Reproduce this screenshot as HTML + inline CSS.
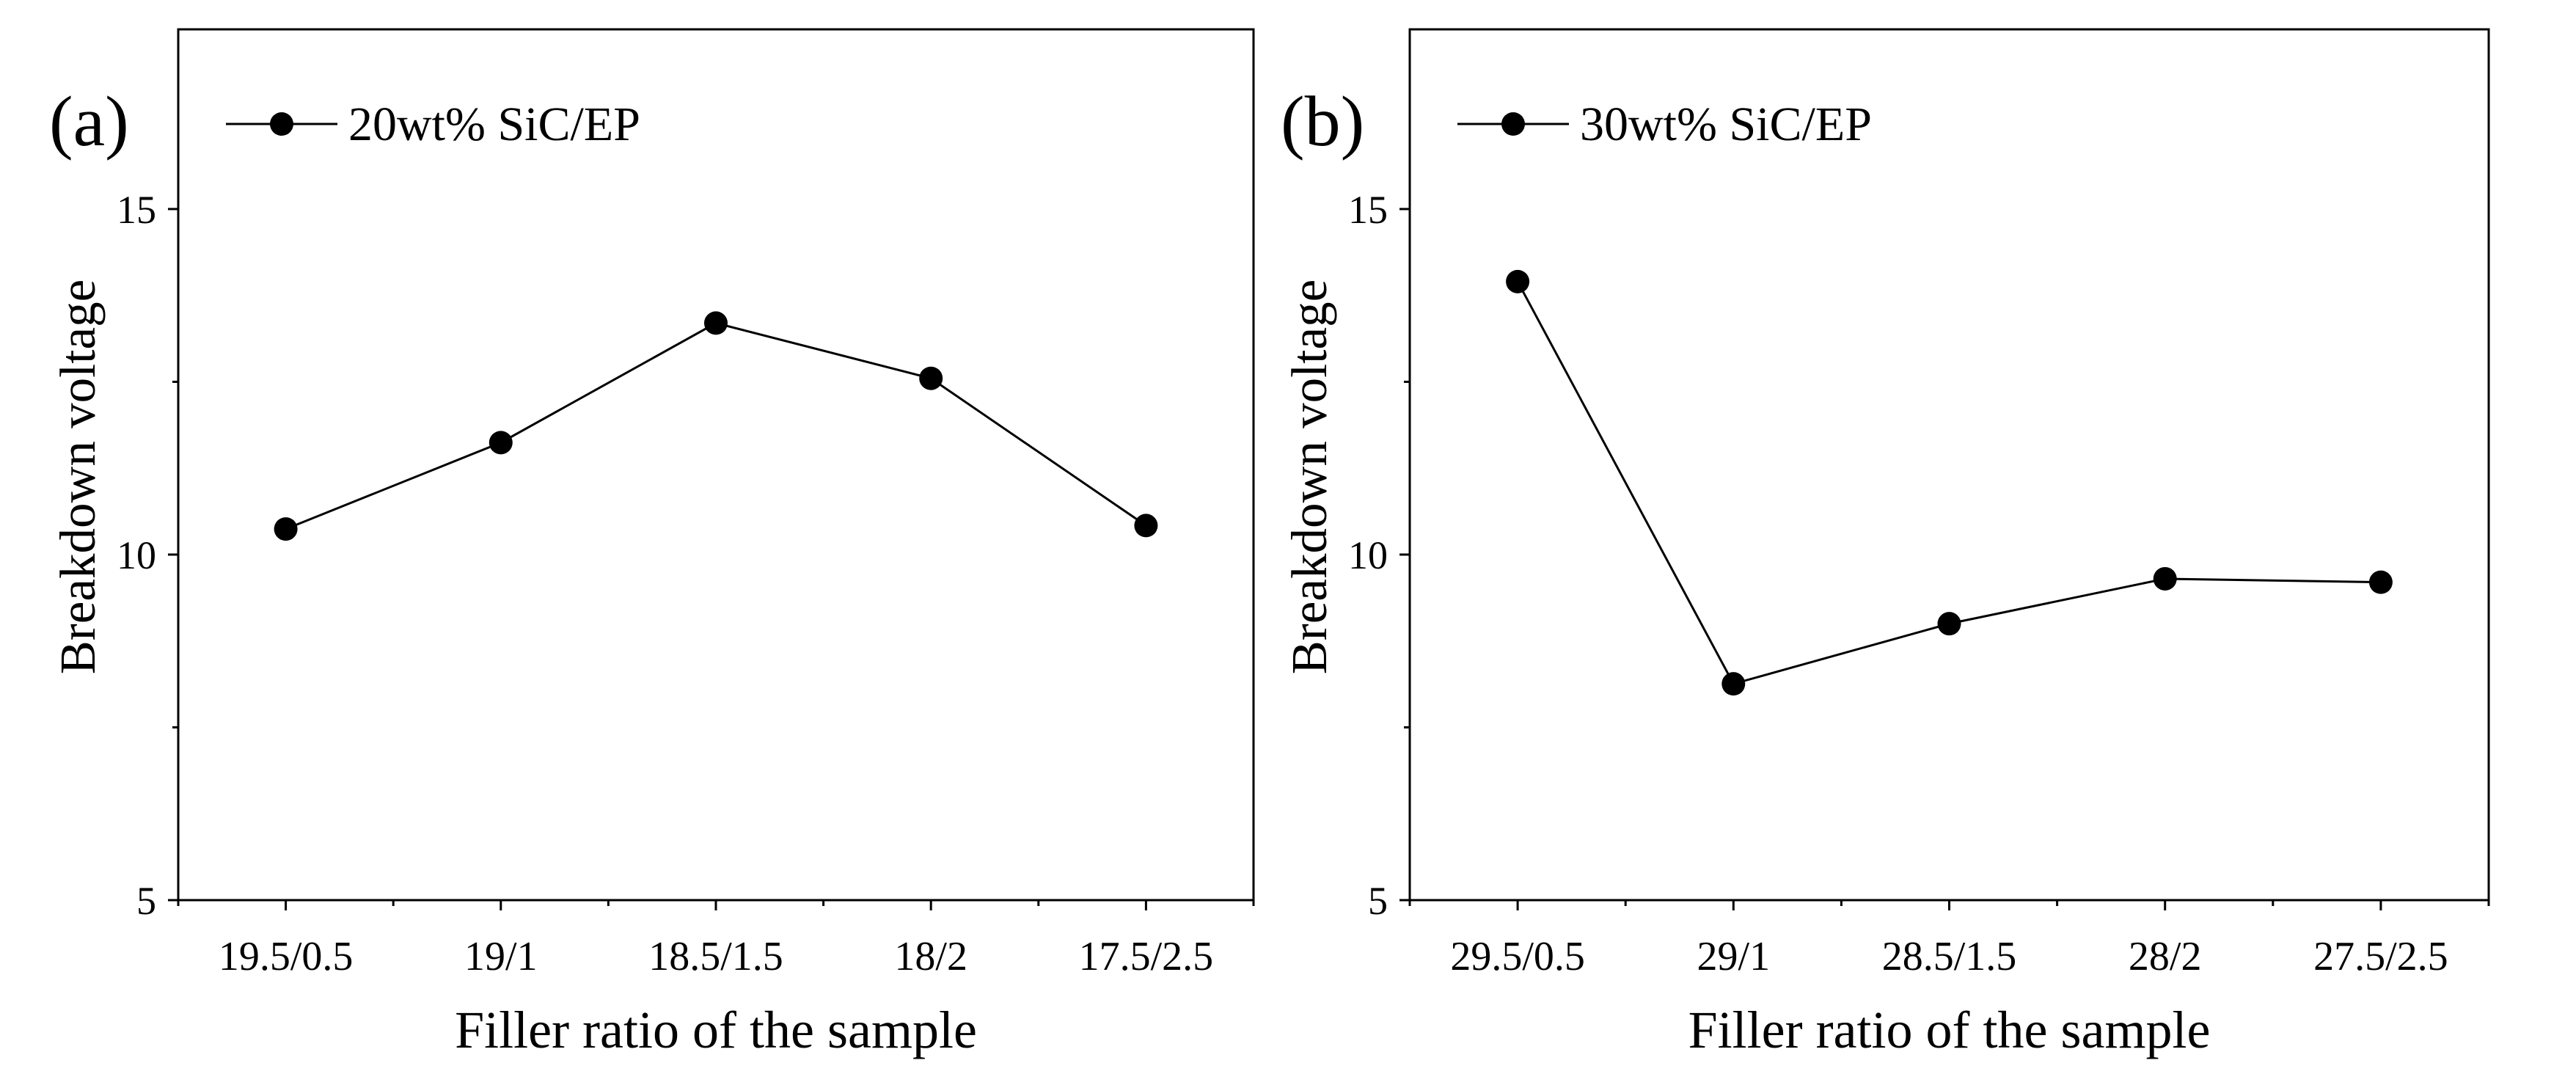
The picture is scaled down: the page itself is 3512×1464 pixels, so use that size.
<!DOCTYPE html>
<html><head><meta charset="utf-8"><style>
html,body{margin:0;padding:0;background:#fff}
svg{display:block;font-family:"Liberation Serif",serif}
</style></head><body>
<svg id="chart" width="3512" height="1464" viewBox="0 0 3512 1464" xmlns="http://www.w3.org/2000/svg"></svg>
<script>
const categoriesA = ["19.5/0.5","19/1","18.5/1.5","18/2","17.5/2.5"];
const valuesA = [10.37, 11.62, 13.35, 12.55, 10.42];
const categoriesB = ["29.5/0.5","29/1","28.5/1.5","28/2","27.5/2.5"];
const valuesB = [13.95, 8.13, 9.0, 9.65, 9.6];
const yTicks = [5, 10, 15];
const yMinor = [7.5, 12.5];
const labels = ["(a)","(b)"];
const legends = ["20wt% SiC/EP","30wt% SiC/EP"];

const svgEl = document.getElementById('chart');
const NS = "http://www.w3.org/2000/svg";
function mk(tag, attrs, parent){const e=document.createElementNS(NS,tag);for(const k in attrs)e.setAttribute(k,attrs[k]);(parent||svgEl).appendChild(e);return e;}

const plotTop=40, plotBottom=1227, yMin=5, yMax=17.6;
function yS(v){return plotBottom-(v-yMin)/(yMax-yMin)*(plotBottom-plotTop);}

function panel(idx, left, right, cats, vals){
  const g=mk('g',{});
  
  
  const n=cats.length;
  const xS=i=>left+(i+0.5)/n*(right-left);
  const frame=mk('rect',{x:left,y:plotTop,width:right-left,height:plotBottom-plotTop,fill:'none',stroke:'#000','stroke-width':3},g);
  
  
  yTicks.forEach(v=>{
    const y=yS(v);
    mk('line',{x1:left-14,x2:left,y1:y,y2:y,stroke:'#000','stroke-width':3},g);
    const t=mk('text',{x:left-30,y:y+19,'text-anchor':'end','font-size':54},g);
    t.textContent=v;
    
    
  });
  yMinor.forEach(v=>{const y=yS(v);mk('line',{x1:left-8,x2:left,y1:y,y2:y,stroke:'#000','stroke-width':3},g);});
  for(let i=0;i<=2*n;i++){
    const x=left+i/(2*n)*(right-left);
    const len=(i%2===1)?14:8;
    mk('line',{x1:x,x2:x,y1:plotBottom,y2:plotBottom+len,stroke:'#000','stroke-width':3},g);
  }
  cats.forEach((c,i)=>{
    const t=mk('text',{x:xS(i),y:1322,'text-anchor':'middle','font-size':56},g);
    t.textContent=c;
    
    
  });
  const pts=vals.map((v,i)=>xS(i)+','+yS(v)).join(' ');
  const line=mk('polyline',{points:pts,fill:'none',stroke:'#000','stroke-width':3},g);
  
  
  vals.forEach((v,i)=>{
    const c=mk('circle',{cx:xS(i),cy:yS(v),r:16,fill:'#000'},g);
    
    
  });
  const yt=mk('text',{x:0,y:0,'text-anchor':'middle','font-size':69,transform:`translate(${left-114},650) rotate(-90)`},g);
  yt.textContent='Breakdown voltage';
  
  
  const xt=mk('text',{x:(left+right)/2,y:1428,'text-anchor':'middle','font-size':72},g);
  xt.textContent='Filler ratio of the sample';
  
  
  const pl=mk('text',{x:left-176,y:198,'font-size':98},g);
  pl.textContent=labels[idx];
  
  
  const lx=left+65, ly=169;
  const lg=mk('g',{},g);
  
  
  mk('line',{x1:lx,x2:lx+152,y1:ly,y2:ly,stroke:'#000','stroke-width':3},lg);
  mk('circle',{cx:lx+76,cy:ly,r:16,fill:'#000'},lg);
  const lt=mk('text',{x:lx+167,y:ly+22,'font-size':66},lg);
  lt.textContent=legends[idx];
}
panel(0,243,1709,categoriesA,valuesA);
panel(1,1922,3393,categoriesB,valuesB);
</script>
</body></html>
